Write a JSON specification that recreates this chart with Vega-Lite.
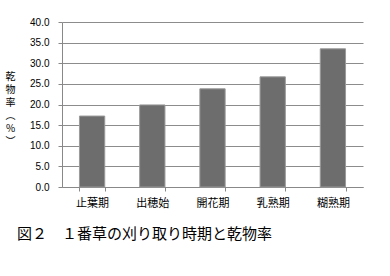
{
  "$schema": "https://vega.github.io/schema/vega-lite/v6.json",
  "width": 301,
  "height": 165,
  "autosize": {"type": "none"},
  "padding": {"left": 62, "top": 22, "right": 27, "bottom": 89},
  "background": "white",
  "data": {"values": [
    {"stage": "止葉期", "rate": 17.2},
    {"stage": "出穂始", "rate": 19.9},
    {"stage": "開花期", "rate": 23.8},
    {"stage": "乳熟期", "rate": 26.7},
    {"stage": "糊熟期", "rate": 33.5}
  ]},
  "title": {
    "text": "図２　１番草の刈り取り時期と乾物率",
    "orient": "bottom",
    "anchor": "start",
    "frame": "group",
    "dx": -45,
    "offset": 19,
    "font": "Noto Sans CJK JP",
    "fontSize": 15,
    "fontWeight": "normal",
    "color": "#000"
  },
  "config": {
    "view": {"stroke": null},
    "font": "Noto Sans CJK JP"
  },
  "mark": {"type": "bar", "color": "#6d6d6d", "stroke": "#9a9a9a", "strokeWidth": 1},
  "encoding": {
    "x": {
      "field": "stage",
      "type": "nominal",
      "sort": null,
      "scale": {"paddingInner": 0.58, "paddingOuter": 0.29},
      "axis": {
        "title": null,
        "labelAngle": 0,
        "labelFont": "Noto Sans CJK JP",
        "labelFontSize": 11,
        "labelColor": "#000",
        "labelPadding": 6,
        "domainColor": "#888",
        "tickColor": "#888",
        "tickBand": "extent",
        "tickSize": 4,
        "grid": false
      }
    },
    "y": {
      "field": "rate",
      "type": "quantitative",
      "scale": {"domain": [0, 40]},
      "axis": {
        "values": [0, 5, 10, 15, 20, 25, 30, 35, 40],
        "format": ".1f",
        "title": ["乾", "物", "率", "︵", "%", "︶"],
        "titleAngle": 0,
        "titleFont": "Noto Sans CJK JP",
        "titleFontSize": 10,
        "titleFontWeight": "normal",
        "titleLineHeight": 13,
        "titleX": -52,
        "titleY": 49,
        "titleAlign": "center",
        "titleBaseline": "top",
        "titleColor": "#000",
        "labelFont": "Liberation Sans",
        "labelFontSize": 10,
        "labelColor": "#000",
        "labelPadding": 9,
        "domainColor": "#888",
        "tickColor": "#888",
        "tickSize": 4,
        "gridColor": "#8c8c8c"
      }
    }
  }
}
